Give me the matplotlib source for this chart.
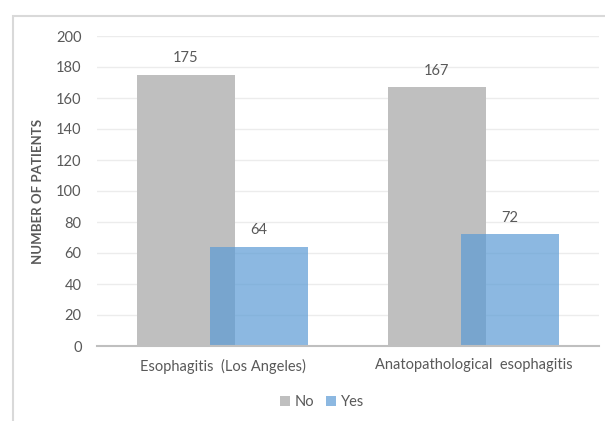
import numpy as np
import matplotlib.pyplot as plt
from matplotlib.patches import Rectangle

categories = ['Esophagitis  (Los Angeles)', 'Anatopathological  esophagitis']
no_counts = [175, 167]
yes_counts = [64, 72]
series_names = ['No', 'Yes']

plt.rcParams['font.family'] = ['Lato', 'DejaVu Sans']
text_color = '#595959'

fig = plt.figure(figsize=(6.05, 4.21), dpi=100)
ax = fig.add_axes([97 / 605, 1 - 346 / 421, 502 / 605, 310 / 421])

# light frame around the chart area
fig.patches.append(Rectangle((13 / 605, -0.1), 1.2, 1 - 16 / 421 + 0.1,
                             transform=fig.transFigure, fill=False,
                             edgecolor='#d9d9d9', linewidth=1.5))

x = np.arange(len(categories))
width = 0.39
offset = 0.146
bars_no = ax.bar(x - offset, no_counts, width, color='#bfbfbf', label=series_names[0], zorder=2)
bars_yes = ax.bar(x + offset, yes_counts, width, color='#5b9bd5', alpha=0.7,
                  label=series_names[1], zorder=3)

for bars, vals in ((bars_no, no_counts), (bars_yes, yes_counts)):
    for b, v in zip(bars, vals):
        ax.text(b.get_x() + b.get_width() / 2, v + 6, str(v), ha='center', va='bottom',
                fontsize=10.5, color=text_color)

ax.set_xlim(-0.5, 1.5)
ax.set_ylim(0, 200)
ax.set_yticks(range(0, 201, 20))
ax.set_xticks(x)
ax.set_xticklabels(categories)
ax.tick_params(axis='both', length=0, labelsize=10.5, labelcolor=text_color)
ax.tick_params(axis='y', pad=11)
ax.tick_params(axis='x', pad=9)
ax.grid(axis='y', color='#ececec', linewidth=1, zorder=0)
ax.set_axisbelow(True)
for s in ('top', 'right', 'left'):
    ax.spines[s].set_visible(False)
ax.spines['bottom'].set_color('#bfbfbf')
ax.spines['bottom'].set_linewidth(1.5)
ax.spines['bottom'].set_zorder(4)

ax.set_ylabel('NUMBER OF PATIENTS', fontsize=9.5, fontweight='bold', color=text_color, labelpad=8)
ax.yaxis.set_label_coords(-0.106, 0.5)

leg = fig.legend(loc='center', bbox_to_anchor=(322 / 605, 1 - 402 / 421), ncol=2, frameon=False,
                 fontsize=10.5, handlelength=0.7, handleheight=0.7, handletextpad=0.3,
                 columnspacing=0.8, labelcolor=text_color)

fig.savefig('out.png', dpi=100)
